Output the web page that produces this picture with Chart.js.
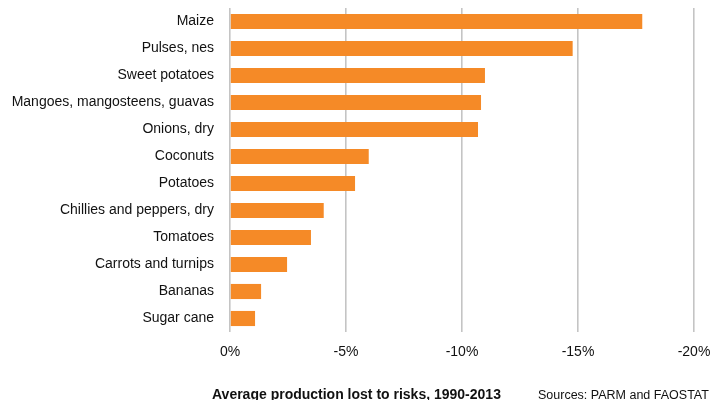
<!DOCTYPE html>
<html>
<head>
<meta charset="utf-8">
<script src="https://cdn.jsdelivr.net/npm/chart.js@4"></script>
<style>
  html, body { margin: 0; padding: 0; background: #fff; }
  #wrap { position: relative; width: 726px; height: 400px; overflow: hidden; }
  canvas { position: absolute; left: 0; top: 0; }
  .note { position: absolute; font-family: "Liberation Sans", Arial, sans-serif; color: #111; white-space: nowrap; line-height: normal; }
  #xtitle { left: 212px; top: 386px; font-size: 14px; font-weight: bold; }
  #source { left: 538px; top: 388px; font-size: 12.5px; }
</style>
</head>
<body>
<div id="wrap">
  <canvas id="c" width="726" height="400"></canvas>
  <div id="xtitle" class="note">Average production lost to risks, 1990-2013</div>
  <div id="source" class="note">Sources: PARM and FAOSTAT</div>
</div>
<script>
const categories = [
  "Maize", "Pulses, nes", "Sweet potatoes", "Mangoes, mangosteens, guavas",
  "Onions, dry", "Coconuts", "Potatoes", "Chillies and peppers, dry",
  "Tomatoes", "Carrots and turnips", "Bananas", "Sugar cane"
];
const lossValues = [-17.77, -14.77, -10.99, -10.82, -10.69, -5.98, -5.39, -4.04, -3.49, -2.46, -1.34, -1.08];
const tickValues = [0, -5, -10, -15, -20];

const FONT = "'Liberation Sans', Arial, sans-serif";

new Chart(document.getElementById('c'), {
  type: 'bar',
  data: {
    labels: categories,
    datasets: [{
      data: lossValues,
      backgroundColor: '#F58A27',
      borderWidth: 0,
      categoryPercentage: 1,
      barPercentage: 0.56
    }]
  },
  options: {
    indexAxis: 'y',
    responsive: false,
    animation: false,
    layout: { padding: { top: 8, right: 32, bottom: 0, left: 0 } },
    plugins: { legend: { display: false }, tooltip: { enabled: false } },
    scales: {
      x: {
        min: -20, max: 0, reverse: true,
        afterBuildTicks: (scale) => { scale.ticks = tickValues.map(v => ({ value: v })); },
        afterFit: (scale) => { scale.height = 68; scale.paddingLeft = 0; scale.paddingRight = 0; },
        grid: { color: '#c4c4c4', lineWidth: 1.6, drawTicks: false },
        border: { display: false },
        ticks: {
          padding: 12,
          color: '#111',
          font: { family: FONT, size: 14 },
          callback: (v) => (v === 0 ? '0' : v) + '%'
        }
      },
      y: {
        afterFit: (scale) => { scale.width = 230; scale.paddingTop = 0; scale.paddingBottom = 0; },
        grid: { display: false, drawTicks: false },
        border: { display: false },
        ticks: {
          padding: 16,
          color: '#111',
          font: { family: FONT, size: 14 }
        }
      }
    }
  }
});
</script>
</body>
</html>
